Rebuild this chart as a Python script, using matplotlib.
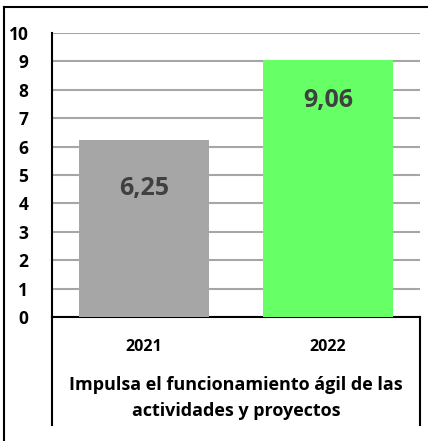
import matplotlib
matplotlib.use("Agg")
import matplotlib.pyplot as plt
from matplotlib.lines import Line2D

years = ["2021", "2022"]
scores = [6.25, 9.06]
bar_colors = ["#A6A6A6", "#66FF66"]
y_ticks = list(range(0, 11))
title = "Impulsa el funcionamiento ágil de las\nactividades y proyectos"

plt.rcParams['font.family'] = ['Open Sans', 'DejaVu Sans']
plt.rcParams['font.weight'] = 'bold'

W, H = 428, 441
fig = plt.figure(figsize=(W / 100, H / 100), dpi=100)

def fx(px):
    return px / W

def fy(py):
    return 1 - py / H

ax = fig.add_axes([fx(52), fy(317), fx(420) - fx(52), fy(33) - fy(317)])

xs = range(len(years))
ax.bar(xs, scores, width=0.707, color=bar_colors, zorder=3)
ax.set_xlim(-0.5, 1.5)
ax.set_ylim(0, 10)
ax.set_yticks(y_ticks)
ax.yaxis.grid(True, color="#A6A6A6", linewidth=1.5, zorder=0)
ax.tick_params(axis="y", length=0, pad=17, labelsize=12.5)
ax.tick_params(axis="x", length=0, pad=16, labelsize=11.5)
ax.set_xticks(list(xs))
ax.set_xticklabels(years, fontweight="bold")
for lab in ax.get_yticklabels():
    lab.set_fontweight("bold")

for sp in ["top", "right"]:
    ax.spines[sp].set_visible(False)
ax.spines["left"].set_linewidth(1.5)
ax.spines["bottom"].set_linewidth(1.5)

# value labels
label_offsets = [-1.72, -1.45]
for x, v, off in zip(xs, scores, label_offsets):
    ax.text(x, v + off, f"{v:.2f}".replace(".", ","), ha="center", va="center",
            fontsize=18, fontweight="bold", color="#404040", zorder=4)

fig.text(fx(236), fy(398), title, ha="center", va="center",
         fontsize=13, fontweight="bold", linespacing=1.6)

# table-like lines below the plot
fig.add_artist(Line2D([fx(52), fx(52)], [fy(317), fy(425)], color="black", lw=1.5))
fig.add_artist(Line2D([fx(420), fx(420)], [fy(317), fy(425)], color="black", lw=1.5))
# outer chart border
fig.add_artist(Line2D([fx(4), fx(4)], [fy(7), 0], color="black", lw=1.5))
fig.add_artist(Line2D([fx(4), 1], [fy(7), fy(7)], color="black", lw=1.5))

fig.savefig("out.png", dpi=100)
